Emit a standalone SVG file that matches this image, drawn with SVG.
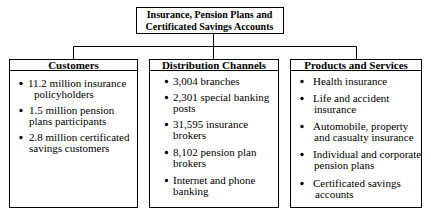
<svg xmlns="http://www.w3.org/2000/svg" width="431" height="219" viewBox="0 0 431 219">
<style>
.box{fill:#fff;stroke:#000;stroke-width:1}
.ln{fill:none;stroke:#000;stroke-width:1}
.t{font-family:"Liberation Serif","Times New Roman",serif;font-size:10px;font-weight:bold;fill:#000;text-anchor:middle}
.h{font-family:"Liberation Serif","Times New Roman",serif;font-size:11px;font-weight:bold;fill:#000;text-anchor:middle}
.b{font-family:"Liberation Serif","Times New Roman",serif;font-size:11px;fill:#000}
.d{fill:#000}
</style>
<rect width="431" height="219" fill="#fff"/>
<g id="connectors">
<path class="ln" d="M213.5 33V46.5M73.5 46.5H356.5M73.5 46.5V59M213.5 46.5V59M356.5 46.5V59"/>
</g>
<g id="root">
<rect class="box" x="136.5" y="7.5" width="147" height="26"/>
<text class="t" x="209.5" y="18">Insurance, Pension Plans and</text>
<text class="t" x="209.5" y="30">Certificated Savings Accounts</text>
</g>
<g id="customers">
<rect class="box" x="9.5" y="59.5" width="128" height="148"/>
<line class="ln" x1="9.5" y1="70.5" x2="137.5" y2="70.5"/>
<text class="h" x="73.5" y="68.5">Customers</text>
<circle class="d" cx="21" cy="83.5" r="1.7"/>
<text class="b" x="28" y="87">11.2 million insurance</text>
<text class="b" x="34" y="98">policyholders</text>
<circle class="d" cx="21" cy="110.5" r="1.7"/>
<text class="b" x="29" y="114">1.5 million pension</text>
<text class="b" x="29" y="125">plans participants</text>
<circle class="d" cx="21" cy="137.5" r="1.7"/>
<text class="b" x="29" y="141">2.8 million certificated</text>
<text class="b" x="29" y="152">savings customers</text>
</g>
<g id="distribution">
<rect class="box" x="149.5" y="59.5" width="129" height="148"/>
<line class="ln" x1="149.5" y1="70.5" x2="278.5" y2="70.5"/>
<text class="h" x="214" y="68.5">Distribution Channels</text>
<circle class="d" cx="166.5" cy="81.5" r="1.7"/>
<text class="b" x="173" y="85">3,004 branches</text>
<circle class="d" cx="166.5" cy="97.5" r="1.7"/>
<text class="b" x="173" y="101">2,301 special banking</text>
<text class="b" x="173" y="112">posts</text>
<circle class="d" cx="166.5" cy="124.5" r="1.7"/>
<text class="b" x="173" y="128">31,595 insurance</text>
<text class="b" x="173" y="139">brokers</text>
<circle class="d" cx="166.5" cy="152.5" r="1.7"/>
<text class="b" x="173" y="156">8,102 pension plan</text>
<text class="b" x="173" y="167">brokers</text>
<circle class="d" cx="166.5" cy="180.5" r="1.7"/>
<text class="b" x="173" y="184">Internet and phone</text>
<text class="b" x="173" y="195">banking</text>
</g>
<g id="products">
<rect class="box" x="290.5" y="59.5" width="131" height="148"/>
<line class="ln" x1="290.5" y1="70.5" x2="421.5" y2="70.5"/>
<text class="h" x="356" y="68.5">Products and Services</text>
<circle class="d" cx="302" cy="81.5" r="1.7"/>
<text class="b" x="313" y="85">Health insurance</text>
<circle class="d" cx="302" cy="98.5" r="1.7"/>
<text class="b" x="313" y="102">Life and accident</text>
<text class="b" x="314" y="113">insurance</text>
<circle class="d" cx="302" cy="126.5" r="1.7"/>
<text class="b" x="313" y="130">Automobile, property</text>
<text class="b" x="314" y="141">and casualty insurance</text>
<circle class="d" cx="302" cy="154.5" r="1.7"/>
<text class="b" x="313" y="158">Individual and corporate</text>
<text class="b" x="314" y="169">pension plans</text>
<circle class="d" cx="302" cy="183.5" r="1.7"/>
<text class="b" x="313" y="187">Certificated savings</text>
<text class="b" x="315" y="198">accounts</text>
</g>
</svg>
